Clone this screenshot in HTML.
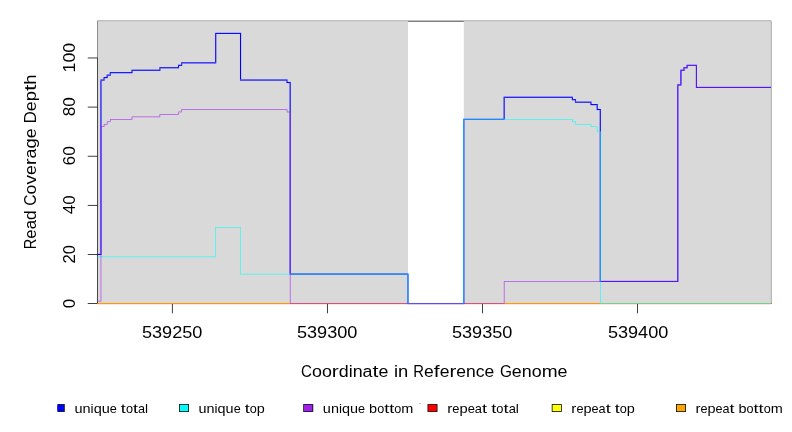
<!DOCTYPE html>
<html><head><meta charset="utf-8"><title>Read Coverage Depth</title>
<style>html,body{margin:0;padding:0;background:#fff;overflow:hidden;}svg{display:block;}text{font-family:"Liberation Sans",sans-serif;}</style>
</head><body>
<svg width="792" height="432" viewBox="0 0 792 432">
<rect x="0" y="0" width="792" height="432" fill="#ffffff"/>
<g id="box">
<rect x="97.12" y="20.75" width="674.15" height="0.75" fill="#000"/>
<rect x="97.12" y="303.18" width="674.15" height="0.75" fill="#000"/>
<rect x="97.12" y="21.5" width="0.75" height="281.68" fill="#000"/>
<rect x="770.52" y="21.5" width="0.75" height="281.68" fill="#000"/>
</g>
<g id="shade" fill="#d9d9d9">
<rect x="97.5" y="21.12" width="310.5" height="282.43"/>
<rect x="463.82" y="21.12" width="307.08" height="282.43"/>
</g>
<g id="axes">
<rect x="97.12" y="57.95" width="0.75" height="245.6" fill="#353535"/>
<rect x="87.75" y="303.18" width="9.75" height="0.75" fill="#000"/>
<rect x="87.75" y="254.06" width="9.75" height="0.75" fill="#000"/>
<rect x="87.75" y="204.94" width="9.75" height="0.75" fill="#000"/>
<rect x="87.75" y="155.82" width="9.75" height="0.75" fill="#000"/>
<rect x="87.75" y="106.7" width="9.75" height="0.75" fill="#000"/>
<rect x="87.75" y="57.58" width="9.75" height="0.75" fill="#000"/>
<rect x="171.93" y="303.55" width="0.75" height="9.75" fill="#000"/>
<rect x="326.99" y="303.55" width="0.75" height="9.75" fill="#000"/>
<rect x="482.06" y="303.55" width="0.75" height="9.75" fill="#000"/>
<rect x="637.12" y="303.55" width="0.75" height="9.75" fill="#000"/>
</g>
<g id="series">
<g fill="#ff0000"><rect x="97.5" y="302.99" width="673.4" height="1.12"/></g>
<g fill="#ffff00"><rect x="97.5" y="303.27" width="673.4" height="0.56"/></g>
<g fill="#ffa500"><rect x="97.5" y="303.27" width="673.4" height="0.56"/></g>
<g fill="#0000ff"><rect x="97.5" y="253.87" width="4.03" height="1.12"/><rect x="100.41" y="80.62" width="1.12" height="173.25"/><rect x="100.41" y="79.49" width="4.23" height="1.12"/><rect x="103.51" y="78.16" width="1.12" height="1.33"/><rect x="103.51" y="77.04" width="4.23" height="1.12"/><rect x="106.61" y="75.7" width="1.12" height="1.33"/><rect x="106.61" y="74.58" width="4.23" height="1.12"/><rect x="109.71" y="73.25" width="1.12" height="1.33"/><rect x="109.71" y="72.12" width="22.83" height="1.12"/><rect x="131.42" y="70.79" width="1.12" height="1.33"/><rect x="131.42" y="69.67" width="29.04" height="1.12"/><rect x="159.33" y="68.34" width="1.12" height="1.33"/><rect x="159.33" y="67.21" width="19.73" height="1.12"/><rect x="177.94" y="65.88" width="1.12" height="1.33"/><rect x="177.94" y="64.76" width="4.23" height="1.12"/><rect x="181.04" y="63.42" width="1.12" height="1.33"/><rect x="181.04" y="62.3" width="35.24" height="1.12"/><rect x="215.16" y="33.95" width="1.12" height="28.35"/><rect x="215.16" y="32.83" width="25.94" height="1.12"/><rect x="239.97" y="33.95" width="1.12" height="45.54"/><rect x="239.97" y="79.49" width="47.64" height="1.12"/><rect x="286.49" y="80.62" width="1.12" height="1.33"/><rect x="286.49" y="81.95" width="4.23" height="1.12"/><rect x="289.59" y="83.07" width="1.12" height="190.44"/><rect x="289.59" y="273.52" width="118.97" height="1.12"/><rect x="407.44" y="274.64" width="1.12" height="28.35"/><rect x="407.44" y="302.99" width="56.95" height="1.12"/><rect x="463.26" y="119.91" width="1.12" height="183.07"/><rect x="463.26" y="118.79" width="41.44" height="1.12"/><rect x="503.58" y="97.81" width="1.12" height="20.98"/><rect x="503.58" y="96.68" width="69.35" height="1.12"/><rect x="571.81" y="97.81" width="1.12" height="1.33"/><rect x="571.81" y="99.14" width="4.23" height="1.12"/><rect x="574.91" y="100.26" width="1.12" height="1.33"/><rect x="574.91" y="101.6" width="16.63" height="1.12"/><rect x="590.41" y="102.72" width="1.12" height="1.33"/><rect x="590.41" y="104.05" width="7.33" height="1.12"/><rect x="596.62" y="105.18" width="1.12" height="3.79"/><rect x="596.62" y="108.96" width="4.23" height="1.12"/><rect x="599.72" y="110.09" width="1.12" height="170.8"/><rect x="599.72" y="280.88" width="78.66" height="1.12"/><rect x="677.25" y="85.53" width="1.12" height="195.36"/><rect x="677.25" y="84.4" width="4.23" height="1.12"/><rect x="680.35" y="70.79" width="1.12" height="13.61"/><rect x="680.35" y="69.67" width="4.23" height="1.12"/><rect x="683.45" y="68.34" width="1.12" height="1.33"/><rect x="683.45" y="67.21" width="4.23" height="1.12"/><rect x="686.55" y="65.88" width="1.12" height="1.33"/><rect x="686.55" y="64.76" width="10.43" height="1.12"/><rect x="695.86" y="65.88" width="1.12" height="20.98"/><rect x="695.86" y="86.86" width="75.04" height="1.12"/></g>
<g fill="#00ffff"><rect x="97.5" y="256.6" width="118.5" height="0.56"/><rect x="215.44" y="227.7" width="0.56" height="28.91"/><rect x="215.44" y="227.13" width="25.37" height="0.56"/><rect x="240.25" y="227.7" width="0.56" height="46.1"/><rect x="240.25" y="273.8" width="168.03" height="0.56"/><rect x="407.72" y="274.36" width="0.56" height="28.91"/><rect x="407.72" y="303.27" width="56.39" height="0.56"/><rect x="463.54" y="119.63" width="0.56" height="183.64"/><rect x="463.54" y="119.07" width="109.11" height="0.56"/><rect x="572.09" y="119.63" width="0.56" height="1.89"/><rect x="572.09" y="121.52" width="3.66" height="0.56"/><rect x="575.19" y="122.09" width="0.56" height="1.89"/><rect x="575.19" y="123.98" width="16.07" height="0.56"/><rect x="590.69" y="124.54" width="0.56" height="1.89"/><rect x="590.69" y="126.44" width="6.77" height="0.56"/><rect x="596.9" y="127" width="0.56" height="4.35"/><rect x="596.9" y="131.35" width="3.66" height="0.56"/><rect x="600" y="131.91" width="0.56" height="171.36"/><rect x="600" y="303.27" width="170.9" height="0.56"/></g>
<g fill="#a020f0"><rect x="97.5" y="300.81" width="3.75" height="0.56"/><rect x="100.69" y="127" width="0.56" height="173.81"/><rect x="100.69" y="126.44" width="3.66" height="0.56"/><rect x="103.79" y="124.54" width="0.56" height="1.89"/><rect x="103.79" y="123.98" width="3.66" height="0.56"/><rect x="106.89" y="122.09" width="0.56" height="1.89"/><rect x="106.89" y="121.52" width="3.66" height="0.56"/><rect x="109.99" y="119.63" width="0.56" height="1.89"/><rect x="109.99" y="119.07" width="22.27" height="0.56"/><rect x="131.7" y="117.18" width="0.56" height="1.89"/><rect x="131.7" y="116.61" width="28.47" height="0.56"/><rect x="159.61" y="114.72" width="0.56" height="1.89"/><rect x="159.61" y="114.16" width="19.17" height="0.56"/><rect x="178.22" y="112.26" width="0.56" height="1.89"/><rect x="178.22" y="111.7" width="3.66" height="0.56"/><rect x="181.32" y="109.81" width="0.56" height="1.89"/><rect x="181.32" y="109.24" width="106.01" height="0.56"/><rect x="286.77" y="109.81" width="0.56" height="1.89"/><rect x="286.77" y="111.7" width="3.66" height="0.56"/><rect x="289.87" y="112.26" width="0.56" height="191.01"/><rect x="289.87" y="303.27" width="214.55" height="0.56"/><rect x="503.86" y="281.73" width="0.56" height="21.54"/><rect x="503.86" y="281.16" width="174.24" height="0.56"/><rect x="677.53" y="85.25" width="0.56" height="195.92"/><rect x="677.53" y="84.68" width="3.66" height="0.56"/><rect x="680.63" y="70.51" width="0.56" height="14.17"/><rect x="680.63" y="69.95" width="3.66" height="0.56"/><rect x="683.73" y="68.06" width="0.56" height="1.89"/><rect x="683.73" y="67.49" width="3.66" height="0.56"/><rect x="686.83" y="65.6" width="0.56" height="1.89"/><rect x="686.83" y="65.04" width="9.87" height="0.56"/><rect x="696.14" y="65.6" width="0.56" height="21.54"/><rect x="696.14" y="87.14" width="74.76" height="0.56"/></g>
<rect x="771" y="303" width="1" height="1" fill="#d7645a"/>
</g>
<g id="labels" fill="#000" opacity="0.999">
<text x="141.94" y="338" font-size="16" textLength="10.08" lengthAdjust="spacingAndGlyphs">5</text>
<text x="152.02" y="338" font-size="16" textLength="10.08" lengthAdjust="spacingAndGlyphs">3</text>
<text x="162.09" y="338" font-size="16" textLength="10.08" lengthAdjust="spacingAndGlyphs">9</text>
<text x="172.17" y="338" font-size="16" textLength="10.08" lengthAdjust="spacingAndGlyphs">2</text>
<text x="182.24" y="338" font-size="16" textLength="10.08" lengthAdjust="spacingAndGlyphs">5</text>
<text x="192.32" y="338" font-size="16" textLength="10.08" lengthAdjust="spacingAndGlyphs">0</text>
<text x="296.94" y="338" font-size="16" textLength="10.08" lengthAdjust="spacingAndGlyphs">5</text>
<text x="307.02" y="338" font-size="16" textLength="10.08" lengthAdjust="spacingAndGlyphs">3</text>
<text x="317.09" y="338" font-size="16" textLength="10.08" lengthAdjust="spacingAndGlyphs">9</text>
<text x="327.17" y="338" font-size="16" textLength="10.08" lengthAdjust="spacingAndGlyphs">3</text>
<text x="337.24" y="338" font-size="16" textLength="10.08" lengthAdjust="spacingAndGlyphs">0</text>
<text x="347.32" y="338" font-size="16" textLength="10.08" lengthAdjust="spacingAndGlyphs">0</text>
<text x="451.94" y="338" font-size="16" textLength="10.08" lengthAdjust="spacingAndGlyphs">5</text>
<text x="462.02" y="338" font-size="16" textLength="10.08" lengthAdjust="spacingAndGlyphs">3</text>
<text x="472.09" y="338" font-size="16" textLength="10.08" lengthAdjust="spacingAndGlyphs">9</text>
<text x="482.17" y="338" font-size="16" textLength="10.08" lengthAdjust="spacingAndGlyphs">3</text>
<text x="492.24" y="338" font-size="16" textLength="10.08" lengthAdjust="spacingAndGlyphs">5</text>
<text x="502.32" y="338" font-size="16" textLength="10.08" lengthAdjust="spacingAndGlyphs">0</text>
<text x="607.94" y="338" font-size="16" textLength="10.06" lengthAdjust="spacingAndGlyphs">5</text>
<text x="618" y="338" font-size="16" textLength="10.06" lengthAdjust="spacingAndGlyphs">3</text>
<text x="628.07" y="338" font-size="16" textLength="10.06" lengthAdjust="spacingAndGlyphs">9</text>
<text x="638.13" y="338" font-size="16" textLength="10.06" lengthAdjust="spacingAndGlyphs">4</text>
<text x="648.2" y="338" font-size="16" textLength="10.06" lengthAdjust="spacingAndGlyphs">0</text>
<text x="658.26" y="338" font-size="16" textLength="10.06" lengthAdjust="spacingAndGlyphs">0</text>
<text x="75" y="308.36" font-size="16" textLength="9.35" lengthAdjust="spacingAndGlyphs" transform="rotate(-90 75 308.36)">0</text>
<text x="75" y="263.47" font-size="16" textLength="9.22" lengthAdjust="spacingAndGlyphs" transform="rotate(-90 75 263.47)">2</text>
<text x="75" y="254.25" font-size="16" textLength="9.22" lengthAdjust="spacingAndGlyphs" transform="rotate(-90 75 254.25)">0</text>
<text x="75" y="214.25" font-size="16" textLength="9.42" lengthAdjust="spacingAndGlyphs" transform="rotate(-90 75 214.25)">4</text>
<text x="75" y="204.83" font-size="16" textLength="9.42" lengthAdjust="spacingAndGlyphs" transform="rotate(-90 75 204.83)">0</text>
<text x="75" y="165.44" font-size="16" textLength="9.62" lengthAdjust="spacingAndGlyphs" transform="rotate(-90 75 165.44)">6</text>
<text x="75" y="155.82" font-size="16" textLength="9.62" lengthAdjust="spacingAndGlyphs" transform="rotate(-90 75 155.82)">0</text>
<text x="75" y="116.28" font-size="16" textLength="9.56" lengthAdjust="spacingAndGlyphs" transform="rotate(-90 75 116.28)">8</text>
<text x="75" y="106.72" font-size="16" textLength="9.56" lengthAdjust="spacingAndGlyphs" transform="rotate(-90 75 106.72)">0</text>
<text x="75" y="72.43" font-size="16" textLength="9.83" lengthAdjust="spacingAndGlyphs" transform="rotate(-90 75 72.43)">1</text>
<text x="75" y="62.6" font-size="16" textLength="9.83" lengthAdjust="spacingAndGlyphs" transform="rotate(-90 75 62.6)">0</text>
<text x="75" y="52.77" font-size="16" textLength="9.83" lengthAdjust="spacingAndGlyphs" transform="rotate(-90 75 52.77)">0</text>
<text x="301.03" y="377" font-size="15.8" textLength="10.93" lengthAdjust="spacingAndGlyphs">C</text>
<text x="311.96" y="377" font-size="15.8" textLength="9.94" lengthAdjust="spacingAndGlyphs">o</text>
<text x="321.9" y="377" font-size="15.8" textLength="9.94" lengthAdjust="spacingAndGlyphs">o</text>
<text x="331.83" y="377" font-size="15.8" textLength="6.96" lengthAdjust="spacingAndGlyphs">r</text>
<text x="338.79" y="377" font-size="15.8" textLength="9.94" lengthAdjust="spacingAndGlyphs">d</text>
<text x="348.73" y="377" font-size="15.8" textLength="3.97" lengthAdjust="spacingAndGlyphs">i</text>
<text x="352.7" y="377" font-size="15.8" textLength="9.94" lengthAdjust="spacingAndGlyphs">n</text>
<text x="362.64" y="377" font-size="15.8" textLength="9.94" lengthAdjust="spacingAndGlyphs">a</text>
<text x="372.58" y="377" font-size="15.8" textLength="5.96" lengthAdjust="spacingAndGlyphs">t</text>
<text x="378.54" y="377" font-size="15.8" textLength="9.94" lengthAdjust="spacingAndGlyphs">e</text>
<text x="393.95" y="377" font-size="15.8" textLength="4.09" lengthAdjust="spacingAndGlyphs">i</text>
<text x="398.05" y="377" font-size="15.8" textLength="10.24" lengthAdjust="spacingAndGlyphs">n</text>
<text x="413.33" y="377" font-size="15.8" textLength="10.73" lengthAdjust="spacingAndGlyphs">R</text>
<text x="424.06" y="377" font-size="15.8" textLength="9.75" lengthAdjust="spacingAndGlyphs">e</text>
<text x="433.81" y="377" font-size="15.8" textLength="5.85" lengthAdjust="spacingAndGlyphs">f</text>
<text x="439.66" y="377" font-size="15.8" textLength="9.75" lengthAdjust="spacingAndGlyphs">e</text>
<text x="449.41" y="377" font-size="15.8" textLength="6.83" lengthAdjust="spacingAndGlyphs">r</text>
<text x="456.23" y="377" font-size="15.8" textLength="9.75" lengthAdjust="spacingAndGlyphs">e</text>
<text x="465.98" y="377" font-size="15.8" textLength="9.75" lengthAdjust="spacingAndGlyphs">n</text>
<text x="475.73" y="377" font-size="15.8" textLength="8.78" lengthAdjust="spacingAndGlyphs">c</text>
<text x="484.51" y="377" font-size="15.8" textLength="9.75" lengthAdjust="spacingAndGlyphs">e</text>
<text x="499.95" y="377" font-size="15.8" textLength="11.92" lengthAdjust="spacingAndGlyphs">G</text>
<text x="511.87" y="377" font-size="15.8" textLength="9.94" lengthAdjust="spacingAndGlyphs">e</text>
<text x="521.81" y="377" font-size="15.8" textLength="9.94" lengthAdjust="spacingAndGlyphs">n</text>
<text x="531.75" y="377" font-size="15.8" textLength="9.94" lengthAdjust="spacingAndGlyphs">o</text>
<text x="541.69" y="377" font-size="15.8" textLength="15.9" lengthAdjust="spacingAndGlyphs">m</text>
<text x="557.59" y="377" font-size="15.8" textLength="9.94" lengthAdjust="spacingAndGlyphs">e</text>
<text x="36.3" y="249.26" font-size="15.8" textLength="10.59" lengthAdjust="spacingAndGlyphs" transform="rotate(-90 36.3 249.26)">R</text>
<text x="36.3" y="238.67" font-size="15.8" textLength="9.37" lengthAdjust="spacingAndGlyphs" transform="rotate(-90 36.3 238.67)">e</text>
<text x="36.3" y="229.3" font-size="15.8" textLength="9.34" lengthAdjust="spacingAndGlyphs" transform="rotate(-90 36.3 229.3)">a</text>
<text x="36.3" y="219.95" font-size="15.8" textLength="9.68" lengthAdjust="spacingAndGlyphs" transform="rotate(-90 36.3 219.95)">d</text>
<text x="36.3" y="205.63" font-size="15.8" textLength="11.24" lengthAdjust="spacingAndGlyphs" transform="rotate(-90 36.3 205.63)">C</text>
<text x="36.3" y="194.39" font-size="15.8" textLength="9.86" lengthAdjust="spacingAndGlyphs" transform="rotate(-90 36.3 194.39)">o</text>
<text x="36.3" y="184.53" font-size="15.8" textLength="9.54" lengthAdjust="spacingAndGlyphs" transform="rotate(-90 36.3 184.53)">v</text>
<text x="36.3" y="175" font-size="15.8" textLength="9.91" lengthAdjust="spacingAndGlyphs" transform="rotate(-90 36.3 175)">e</text>
<text x="36.3" y="165.09" font-size="15.8" textLength="6.62" lengthAdjust="spacingAndGlyphs" transform="rotate(-90 36.3 165.09)">r</text>
<text x="36.3" y="158.47" font-size="15.8" textLength="9.87" lengthAdjust="spacingAndGlyphs" transform="rotate(-90 36.3 158.47)">a</text>
<text x="36.3" y="148.6" font-size="15.8" textLength="10.23" lengthAdjust="spacingAndGlyphs" transform="rotate(-90 36.3 148.6)">g</text>
<text x="36.3" y="138.37" font-size="15.8" textLength="9.91" lengthAdjust="spacingAndGlyphs" transform="rotate(-90 36.3 138.37)">e</text>
<text x="36.3" y="123.58" font-size="15.8" textLength="12.4" lengthAdjust="spacingAndGlyphs" transform="rotate(-90 36.3 123.58)">D</text>
<text x="36.3" y="111.18" font-size="15.8" textLength="9.9" lengthAdjust="spacingAndGlyphs" transform="rotate(-90 36.3 111.18)">e</text>
<text x="36.3" y="101.27" font-size="15.8" textLength="10.23" lengthAdjust="spacingAndGlyphs" transform="rotate(-90 36.3 101.27)">p</text>
<text x="36.3" y="91.05" font-size="15.8" textLength="6.31" lengthAdjust="spacingAndGlyphs" transform="rotate(-90 36.3 91.05)">t</text>
<text x="36.3" y="84.73" font-size="15.8" textLength="10.21" lengthAdjust="spacingAndGlyphs" transform="rotate(-90 36.3 84.73)">h</text>
<text x="74.5" y="413" font-size="12.8" textLength="8.07" lengthAdjust="spacingAndGlyphs">u</text>
<text x="82.56" y="413" font-size="12.8" textLength="8.07" lengthAdjust="spacingAndGlyphs">n</text>
<text x="90.63" y="413" font-size="12.8" textLength="3.03" lengthAdjust="spacingAndGlyphs">i</text>
<text x="93.66" y="413" font-size="12.8" textLength="8.07" lengthAdjust="spacingAndGlyphs">q</text>
<text x="101.72" y="413" font-size="12.8" textLength="8.07" lengthAdjust="spacingAndGlyphs">u</text>
<text x="109.79" y="413" font-size="12.8" textLength="7.06" lengthAdjust="spacingAndGlyphs">e</text>
<text x="120.88" y="413" font-size="12.8" textLength="5.04" lengthAdjust="spacingAndGlyphs">t</text>
<text x="125.92" y="413" font-size="12.8" textLength="7.06" lengthAdjust="spacingAndGlyphs">o</text>
<text x="132.98" y="413" font-size="12.8" textLength="5.04" lengthAdjust="spacingAndGlyphs">t</text>
<text x="138.02" y="413" font-size="12.8" textLength="7.06" lengthAdjust="spacingAndGlyphs">a</text>
<text x="145.08" y="413" font-size="12.8" textLength="3.03" lengthAdjust="spacingAndGlyphs">l</text>
<text x="198.52" y="413" font-size="12.8" textLength="8.03" lengthAdjust="spacingAndGlyphs">u</text>
<text x="206.55" y="413" font-size="12.8" textLength="8.03" lengthAdjust="spacingAndGlyphs">n</text>
<text x="214.58" y="413" font-size="12.8" textLength="3.01" lengthAdjust="spacingAndGlyphs">i</text>
<text x="217.59" y="413" font-size="12.8" textLength="8.03" lengthAdjust="spacingAndGlyphs">q</text>
<text x="225.62" y="413" font-size="12.8" textLength="8.03" lengthAdjust="spacingAndGlyphs">u</text>
<text x="233.64" y="413" font-size="12.8" textLength="7.02" lengthAdjust="spacingAndGlyphs">e</text>
<text x="244.68" y="413" font-size="12.8" textLength="5.02" lengthAdjust="spacingAndGlyphs">t</text>
<text x="249.7" y="413" font-size="12.8" textLength="7.02" lengthAdjust="spacingAndGlyphs">o</text>
<text x="256.72" y="413" font-size="12.8" textLength="8.03" lengthAdjust="spacingAndGlyphs">p</text>
<text x="322.85" y="413" font-size="12.8" textLength="8.04" lengthAdjust="spacingAndGlyphs">u</text>
<text x="330.9" y="413" font-size="12.8" textLength="8.04" lengthAdjust="spacingAndGlyphs">n</text>
<text x="338.94" y="413" font-size="12.8" textLength="3.02" lengthAdjust="spacingAndGlyphs">i</text>
<text x="341.96" y="413" font-size="12.8" textLength="8.04" lengthAdjust="spacingAndGlyphs">q</text>
<text x="350" y="413" font-size="12.8" textLength="8.04" lengthAdjust="spacingAndGlyphs">u</text>
<text x="358.05" y="413" font-size="12.8" textLength="7.04" lengthAdjust="spacingAndGlyphs">e</text>
<text x="369.11" y="413" font-size="12.8" textLength="8.04" lengthAdjust="spacingAndGlyphs">b</text>
<text x="377.15" y="413" font-size="12.8" textLength="7.04" lengthAdjust="spacingAndGlyphs">o</text>
<text x="384.19" y="413" font-size="12.8" textLength="5.03" lengthAdjust="spacingAndGlyphs">t</text>
<text x="389.22" y="413" font-size="12.8" textLength="5.03" lengthAdjust="spacingAndGlyphs">t</text>
<text x="394.25" y="413" font-size="12.8" textLength="7.04" lengthAdjust="spacingAndGlyphs">o</text>
<text x="401.29" y="413" font-size="12.8" textLength="12.07" lengthAdjust="spacingAndGlyphs">m</text>
<text x="447.27" y="413" font-size="12.8" textLength="5.11" lengthAdjust="spacingAndGlyphs">r</text>
<text x="452.39" y="413" font-size="12.8" textLength="7.16" lengthAdjust="spacingAndGlyphs">e</text>
<text x="459.55" y="413" font-size="12.8" textLength="8.18" lengthAdjust="spacingAndGlyphs">p</text>
<text x="467.73" y="413" font-size="12.8" textLength="7.16" lengthAdjust="spacingAndGlyphs">e</text>
<text x="474.89" y="413" font-size="12.8" textLength="7.16" lengthAdjust="spacingAndGlyphs">a</text>
<text x="482.05" y="413" font-size="12.8" textLength="5.11" lengthAdjust="spacingAndGlyphs">t</text>
<text x="491.26" y="413" font-size="12.8" textLength="5.11" lengthAdjust="spacingAndGlyphs">t</text>
<text x="496.37" y="413" font-size="12.8" textLength="7.16" lengthAdjust="spacingAndGlyphs">o</text>
<text x="503.53" y="413" font-size="12.8" textLength="5.11" lengthAdjust="spacingAndGlyphs">t</text>
<text x="508.65" y="413" font-size="12.8" textLength="7.16" lengthAdjust="spacingAndGlyphs">a</text>
<text x="515.81" y="413" font-size="12.8" textLength="3.07" lengthAdjust="spacingAndGlyphs">l</text>
<text x="571.38" y="413" font-size="12.8" textLength="5.05" lengthAdjust="spacingAndGlyphs">r</text>
<text x="576.42" y="413" font-size="12.8" textLength="7.06" lengthAdjust="spacingAndGlyphs">e</text>
<text x="583.49" y="413" font-size="12.8" textLength="8.07" lengthAdjust="spacingAndGlyphs">p</text>
<text x="591.56" y="413" font-size="12.8" textLength="7.06" lengthAdjust="spacingAndGlyphs">e</text>
<text x="598.62" y="413" font-size="12.8" textLength="7.06" lengthAdjust="spacingAndGlyphs">a</text>
<text x="605.68" y="413" font-size="12.8" textLength="5.05" lengthAdjust="spacingAndGlyphs">t</text>
<text x="614.77" y="413" font-size="12.8" textLength="5.05" lengthAdjust="spacingAndGlyphs">t</text>
<text x="619.81" y="413" font-size="12.8" textLength="7.06" lengthAdjust="spacingAndGlyphs">o</text>
<text x="626.87" y="413" font-size="12.8" textLength="8.07" lengthAdjust="spacingAndGlyphs">p</text>
<text x="695.4" y="413" font-size="12.8" textLength="5.02" lengthAdjust="spacingAndGlyphs">r</text>
<text x="700.42" y="413" font-size="12.8" textLength="7.02" lengthAdjust="spacingAndGlyphs">e</text>
<text x="707.45" y="413" font-size="12.8" textLength="8.03" lengthAdjust="spacingAndGlyphs">p</text>
<text x="715.48" y="413" font-size="12.8" textLength="7.02" lengthAdjust="spacingAndGlyphs">e</text>
<text x="722.5" y="413" font-size="12.8" textLength="7.02" lengthAdjust="spacingAndGlyphs">a</text>
<text x="729.53" y="413" font-size="12.8" textLength="5.02" lengthAdjust="spacingAndGlyphs">t</text>
<text x="738.56" y="413" font-size="12.8" textLength="8.03" lengthAdjust="spacingAndGlyphs">b</text>
<text x="746.59" y="413" font-size="12.8" textLength="7.02" lengthAdjust="spacingAndGlyphs">o</text>
<text x="753.61" y="413" font-size="12.8" textLength="5.02" lengthAdjust="spacingAndGlyphs">t</text>
<text x="758.63" y="413" font-size="12.8" textLength="5.02" lengthAdjust="spacingAndGlyphs">t</text>
<text x="763.65" y="413" font-size="12.8" textLength="7.02" lengthAdjust="spacingAndGlyphs">o</text>
<text x="770.67" y="413" font-size="12.8" textLength="12.04" lengthAdjust="spacingAndGlyphs">m</text>
</g>
<rect x="419" y="403" width="2" height="1" fill="#c8c8c8"/>
<defs><clipPath id="lc"><rect x="57.45" y="400" width="740" height="20"/></clipPath></defs>
<g id="legend" clip-path="url(#lc)">
<rect x="54.75" y="404.12" width="10" height="7.76" fill="#000"/>
<rect x="55.5" y="404.87" width="8.5" height="6.26" fill="#0000ff"/>
<rect x="179" y="404.12" width="10" height="7.76" fill="#000"/>
<rect x="179.75" y="404.87" width="8.5" height="6.26" fill="#00ffff"/>
<rect x="303.25" y="404.12" width="10" height="7.76" fill="#000"/>
<rect x="304" y="404.87" width="8.5" height="6.26" fill="#a020f0"/>
<rect x="427.5" y="404.12" width="10" height="7.76" fill="#000"/>
<rect x="428.25" y="404.87" width="8.5" height="6.26" fill="#ff0000"/>
<rect x="551.75" y="404.12" width="10" height="7.76" fill="#000"/>
<rect x="552.5" y="404.87" width="8.5" height="6.26" fill="#ffff00"/>
<rect x="676" y="404.12" width="10" height="7.76" fill="#000"/>
<rect x="676.75" y="404.87" width="8.5" height="6.26" fill="#ffa500"/>
</g>
</svg>
</body></html>
